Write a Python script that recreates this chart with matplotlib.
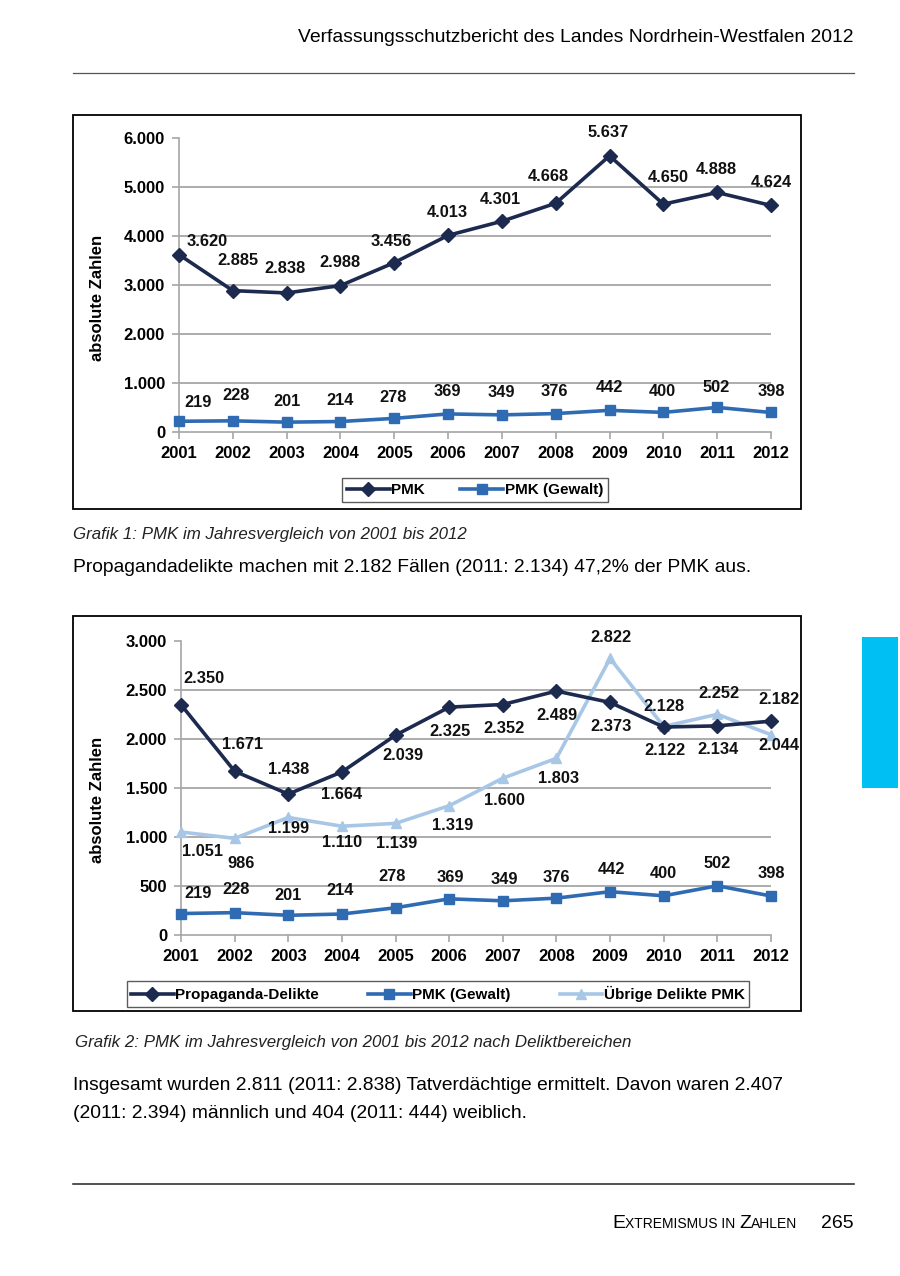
import matplotlib
matplotlib.use('Agg')
import matplotlib.pyplot as plt
from matplotlib.patches import Rectangle
from matplotlib.lines import Line2D

plt.rcParams['font.family'] = ['Liberation Sans', 'DejaVu Sans']

# data
years = [2001, 2002, 2003, 2004, 2005, 2006, 2007, 2008, 2009, 2010, 2011, 2012]
pmk = [3620, 2885, 2838, 2988, 3456, 4013, 4301, 4668, 5637, 4650, 4888, 4624]
pmk_gewalt = [219, 228, 201, 214, 278, 369, 349, 376, 442, 400, 502, 398]
propaganda = [2350, 1671, 1438, 1664, 2039, 2325, 2352, 2489, 2373, 2122, 2134, 2182]
uebrige = [1051, 986, 1199, 1110, 1139, 1319, 1600, 1803, 2822, 2128, 2252, 2044]

# label offsets in pixels (dx, dy up)
off_pmk = [(28, 13), (5, 30), (-2, 24), (-1, 23), (-3, 21), (-1, 23), (-2, 22), (-7, 27), (-1, 23), (5, 27), (-1, 23), (0, 23)]
off_gew1 = [(19, 19), (3, 25), (0, 21), (0, 21), (-1, 21), (-1, 22), (-1, 22), (-1, 22), (0, 23), (-1, 21), (-1, 20), (0, 21)]
off_prop = [(23, 26), (8, 27), (0, 25), (0, -23), (7, -20), (1, -24), (1, -24), (0, -24), (1, -24), (1, -23), (1, -24), (8, 22)]
off_ueb = [(21, -19), (6, -25), (0, -11), (0, -16), (1, -20), (3, -20), (2, -22), (2, -20), (1, 21), (0, 20), (2, 21), (8, -11)]
off_gew2 = [(17, 20), (1, 23), (0, 20), (-2, 24), (-3, 31), (1, 21), (2, 21), (0, 21), (1, 22), (0, 22), (0, 22), (0, 22)]

c_pmk = '#1c2a4f'
c_gew = '#2f6bb2'
c_ueb = '#a8c7e6'
c_grid = '#a6a6a6'

W, H = 900, 1276
fig = plt.figure(figsize=(9, 12.76), dpi=100)


def px_axes(l, t, r, b):
    return fig.add_axes([l / W, 1 - b / H, (r - l) / W, (b - t) / H])


def de(v):
    return f'{v:,}'.replace(',', '.')


def style_axes(ax, ymax, step):
    ax.set_xlim(years[0], years[-1])
    ax.set_ylim(0, ymax)
    ax.set_xticks(years)
    ax.set_yticks(range(0, ymax + 1, step))
    ax.set_yticklabels([de(v) for v in range(0, ymax + 1, step)])
    for s in ['top', 'right']:
        ax.spines[s].set_visible(False)
    for s in ['left', 'bottom']:
        ax.spines[s].set_color(c_grid)
        ax.spines[s].set_linewidth(1.2)
    ax.tick_params(axis='both', colors=c_grid, length=5, width=1.2, labelcolor='black',
                   labelsize=12, pad=5)
    for lab in ax.get_xticklabels() + ax.get_yticklabels():
        lab.set_fontweight('bold')
    for v in range(step, ymax, step):
        ax.axhline(v, color=c_grid, lw=1.3, zorder=0)
    ax.set_facecolor('none')


def labels(ax, vals, offs):
    for x, v, (dx, dy) in zip(years, vals, offs):
        ax.annotate(de(v), (x, v), xytext=(dx, dy), textcoords='offset pixels',
                    ha='center', va='center', fontsize=11.8, fontweight='bold',
                    color='#111111', annotation_clip=False)


def legend(ax, cx, cy, ncol, spacing):
    leg = ax.legend(loc='center', bbox_to_anchor=(cx / W, 1 - cy / H), bbox_transform=fig.transFigure,
                    ncol=ncol, frameon=True, fancybox=False, edgecolor='#333333', fontsize=11,
                    handlelength=2.8, handletextpad=0.1, columnspacing=spacing, borderpad=0.3,
                    borderaxespad=0)
    leg.get_frame().set_linewidth(1.0)
    for t in leg.get_texts():
        t.set_fontweight('bold')
    return leg


# header / page text
fig.text(854 / W, 1 - 37 / H, 'Verfassungsschutzbericht des Landes Nordrhein-Westfalen 2012',
         ha='right', va='center', fontsize=13.9)
fig.add_artist(Line2D([73 / W, 854 / W], [1 - 73 / H, 1 - 73 / H], color='#555555', lw=0.9))
fig.add_artist(Line2D([73 / W, 854 / W], [1 - 1184 / H, 1 - 1184 / H], color='#222222', lw=1.1))

# chart 1
fig.add_artist(Rectangle((73 / W, 1 - 509 / H), 728 / W, 394 / H, fill=False, ec='black', lw=1.3))
ax1 = px_axes(179, 138, 771, 432)
style_axes(ax1, 6000, 1000)
ax1.plot(years, pmk, color=c_pmk, lw=2.6, marker='D', ms=7, clip_on=False, label='PMK', zorder=3)
ax1.plot(years, pmk_gewalt, color=c_gew, lw=2.6, marker='s', ms=6.5, clip_on=False, label='PMK (Gewalt)', zorder=3)
labels(ax1, pmk, off_pmk)
labels(ax1, pmk_gewalt, off_gew1)
fig.text(97 / W, 1 - 298 / H, 'absolute Zahlen', rotation=90, ha='center', va='center',
         fontsize=12, fontweight='bold')
legend(ax1, 475, 490, 2, 2.3)

fig.text(73 / W, 1 - 535 / H, 'Grafik 1: PMK im Jahresvergleich von 2001 bis 2012',
         ha='left', va='center', fontsize=12.2, style='italic', color='#222222')
fig.text(73 / W, 1 - 567 / H, 'Propagandadelikte machen mit 2.182 Fällen (2011: 2.134) 47,2% der PMK aus.',
         ha='left', va='center', fontsize=13.9)

# chart 2
fig.add_artist(Rectangle((73 / W, 1 - 1011 / H), 728 / W, 395 / H, fill=False, ec='black', lw=1.3))
ax2 = px_axes(181, 641, 771, 935)
style_axes(ax2, 3000, 500)
ax2.plot(years, propaganda, color=c_pmk, lw=2.6, marker='D', ms=7, clip_on=False,
         label='Propaganda-Delikte', zorder=4)
ax2.plot(years, pmk_gewalt, color=c_gew, lw=2.6, marker='s', ms=6.5, clip_on=False,
         label='PMK (Gewalt)', zorder=3)
ax2.plot(years, uebrige, color=c_ueb, lw=2.6, marker='^', ms=7, clip_on=False,
         label='Übrige Delikte PMK', zorder=3)
labels(ax2, propaganda, off_prop)
labels(ax2, uebrige, off_ueb)
labels(ax2, pmk_gewalt, off_gew2)
fig.text(97 / W, 1 - 800 / H, 'absolute Zahlen', rotation=90, ha='center', va='center',
         fontsize=12, fontweight='bold')
legend(ax2, 438, 994, 3, 3.2)

fig.text(75 / W, 1 - 1043 / H, 'Grafik 2: PMK im Jahresvergleich von 2001 bis 2012 nach Deliktbereichen',
         ha='left', va='center', fontsize=12.2, style='italic', color='#222222')
fig.text(73 / W, 1 - 1085 / H, 'Insgesamt wurden 2.811 (2011: 2.838) Tatverdächtige ermittelt. Davon waren 2.407',
         ha='left', va='center', fontsize=13.9)
fig.text(73 / W, 1 - 1113 / H, '(2011: 2.394) männlich und 404 (2011: 444) weiblich.',
         ha='left', va='center', fontsize=13.9)

# side tab
fig.add_artist(Rectangle((862 / W, 1 - 788 / H), 36 / W, 151 / H, color='#00bff2', lw=0))

# footer in small caps
fig.canvas.draw()
renderer = fig.canvas.get_renderer()
parts = [('E', 14), ('XTREMISMUS IN ', 10), ('Z', 14), ('AHLEN', 10)]
x_cur = 612
for txt, size in parts:
    t = fig.text(x_cur / W, 1 - 1228 / H, txt, ha='left', va='baseline', fontsize=size)
    x_cur = t.get_window_extent(renderer).x1
fig.text(854 / W, 1 - 1228 / H, '265', ha='right', va='baseline', fontsize=14)

fig.savefig('out.png', dpi=100, facecolor='white')
